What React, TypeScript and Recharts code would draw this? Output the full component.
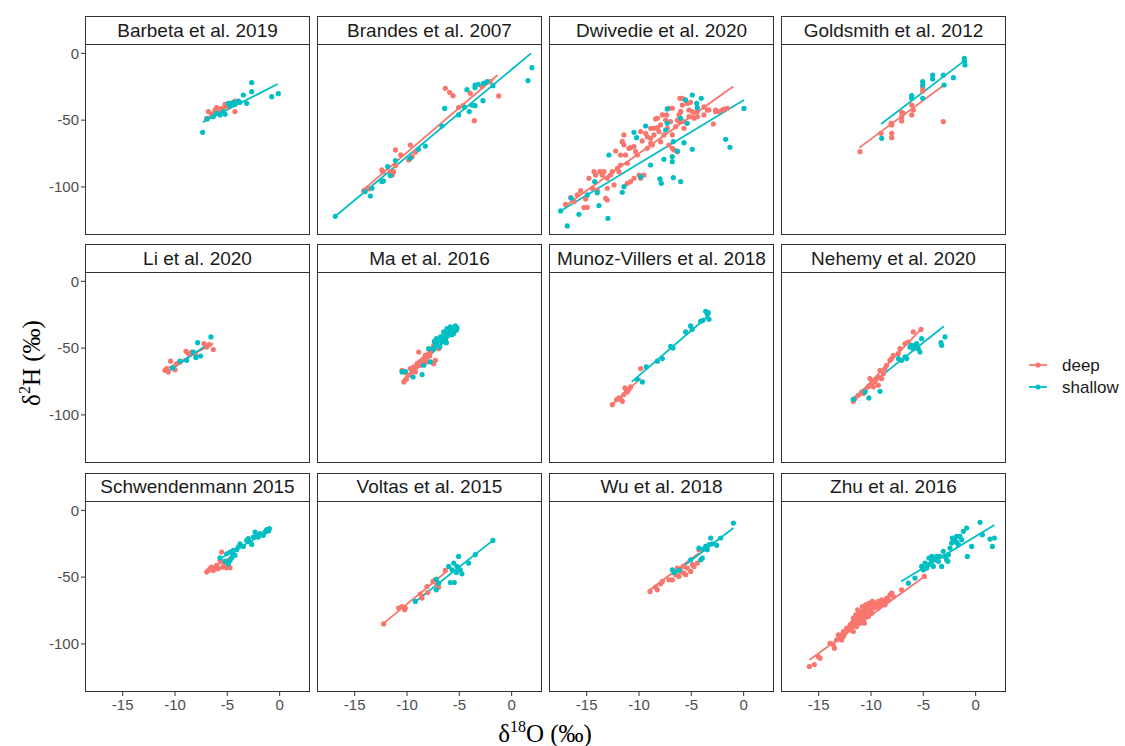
import React from 'react';
import { ScatterChart, Scatter, XAxis, YAxis, ReferenceLine } from 'recharts';

type P = [number, number];
type Fit = [number, number, number, number];

// ---------- data (δ18O, δ2H) ----------
const barbetaDeep: P[] = [[-6.97,-48.6],[-6.81,-43.6],[-6.34,-44.9],[-6.02,-40.6],[-5.54,-41.1],[-5.22,-38.2],[-5.06,-39.9],[-4.27,-43.6],[-4.74,-37.4],[-5.7,-42.4],[-6.49,-46.1],[-6.18,-42.4],[-4.27,-35.7]];
const barbetaShallow: P[] = [[-7.36,-59.1],[-2.67,-21.9],[-2.67,-28.7],[-0.76,-32.4],[-0.13,-30.2],[-3.47,-31.2],[-3.79,-36.7],[-4.43,-36.7],[-4.74,-39.2],[-5.38,-43.6],[-5.7,-46.1],[-6.34,-47.4],[-5.22,-45.6],[-6.02,-44.9],[-4.9,-37.4],[-4.27,-38.2],[-3.95,-35.7],[-3.15,-37.4],[-6.91,-49.1]];
const barbetaDeepFit: Fit = [-7.23,-49.9,-4.27,-36.7];
const barbetaShallowFit: Fit = [-7.36,-51.6,-0.19,-23.0];

const brandesDeep: P[] = [[-14.14,-103],[-13.66,-101.5],[-12.4,-87.3],[-12.3,-88.6],[-11.28,-88.6],[-11.1,-84],[-11.1,-72.3],[-10.6,-76],[-9.68,-68.6],[-9.84,-79.8],[-9.5,-77.3],[-9.2,-74],[-6.34,-26.2],[-5.93,-29.2],[-5.6,-31.7],[-5.07,-40.6],[-4.65,-39.2],[-3.95,-29.9],[-3.57,-50.4],[-2.84,-24.9],[-2.04,-21.2],[-1.24,-31.9],[-11.4,-91],[-11.6,-88.6]];
const brandesShallow: P[] = [[-16.85,-122],[1.94,-10.7],[1.56,-20.4],[-13.5,-106.8],[-13.35,-101],[-14.0,-103.5],[-12.4,-96],[-12.25,-95.5],[-11.6,-91.5],[-11.85,-84.8],[-11.1,-80.3],[-9.68,-78.6],[-8.9,-71.8],[-8.25,-69.4],[-6.66,-54.4],[-6.4,-41.2],[-5.07,-46.1],[-4.5,-40.4],[-4.05,-43.6],[-4.27,-27.2],[-3.8,-38.7],[-3.5,-39.2],[-3.5,-23.7],[-3.2,-23.2],[-3.5,-25.7],[-2.68,-22.4],[-2.36,-21.2],[-1.79,-24.2],[-2.74,-35.4]];
const brandesDeepFit: Fit = [-14.3,-103,-1.34,-16.2];
const brandesShallowFit: Fit = [-16.85,-122,1.85,0];

const dwivedieDeep: P[] = [[-17.01,-113],[-16.53,-108],[-16.21,-111],[-15.9,-106],[-15.58,-102.8],[-15.1,-109],[-14.94,-115.3],[-15.26,-115.5],[-14.46,-101],[-14.14,-91.1],[-13.73,-88.6],[-13.35,-88.6],[-13.51,-91.1],[-13.19,-108.5],[-13.03,-109.8],[-13.03,-93.5],[-12.71,-91.1],[-12.55,-88.6],[-12.39,-98.5],[-12.23,-73.1],[-12.07,-86.1],[-11.92,-88.6],[-11.76,-83.6],[-11.6,-66.1],[-11.44,-68.6],[-11.28,-76.1],[-11.12,-82.3],[-10.96,-71.1],[-10.8,-70.6],[-10.48,-69.8],[-10.32,-73.6],[-10.16,-76.1],[-9.84,-93.5],[-9.69,-65.6],[-9.53,-91.1],[-9.37,-59.9],[-9.21,-71.1],[-8.89,-63.6],[-8.73,-68.6],[-8.57,-61.1],[-8.41,-49.1],[-8.25,-55.6],[-8.09,-58.6],[-7.93,-66.1],[-7.62,-61.1],[-7.46,-49.9],[-7.36,-46.1],[-7.14,-41.1],[-6.98,-51.1],[-6.82,-61.1],[-6.66,-72.3],[-6.5,-54.9],[-6.34,-73.6],[-6.18,-46.1],[-6.09,-33.7],[-6.02,-43.6],[-5.86,-38.7],[-5.77,-51.1],[-5.7,-56.1],[-5.39,-37.4],[-5.23,-42.4],[-5.07,-36.7],[-4.91,-43.6],[-4.75,-48.6],[-4.43,-43.6],[-3.79,-46.1],[-3.47,-42.4],[-3.31,-42.4],[-2.9,-52.9],[-2.68,-43.6],[-2.36,-43.6],[-2.04,-42.4],[-1.56,-41.1],[-14.78,-93.5],[-14.3,-88.6],[-13.99,-102.3],[-11.12,-97.3],[-10.8,-96],[-10.48,-93.5],[-10.0,-91.1],[-13.03,-101],[-11.76,-76.1],[-11.44,-61.1],[-9.84,-58.6],[-8.89,-56.1],[-7.77,-46.1],[-7.14,-68.6],[-6.82,-71.1],[-6.18,-51.1],[-7.93,-53.6],[-8.57,-56.1],[-5.85,-33.7],[-5.37,-37.4],[-6.01,-43.7],[-6.81,-41.1],[-6.33,-49.9],[-5.22,-47.4],[-8.24,-48.6],[-8.24,-56.1],[-9.2,-62.4],[-3.79,-40],[-2.67,-42.4],[-1.88,-41.7],[-4.42,-47.4],[-7.29,-56.1],[-8.88,-67.3],[-11.59,-66.1]];
const dwivedieShallow: P[] = [[-17.49,-118],[-16.85,-129.2],[-16.47,-108.5],[-15.74,-120.5],[-14.94,-106],[-14.24,-96],[-13.83,-114],[-13.99,-104.3],[-12.97,-123.5],[-12.87,-76.1],[-11.6,-104],[-11.44,-99.8],[-10.48,-59.1],[-10.23,-63.1],[-9.84,-92.3],[-9.37,-54.4],[-8.89,-83.6],[-8.0,-94],[-7.87,-97.3],[-7.62,-79.3],[-7.46,-57.4],[-7.3,-41.6],[-7.3,-52.4],[-6.82,-77.3],[-6.82,-81.1],[-6.72,-93],[-6.72,-66.1],[-6.34,-73.1],[-6.02,-96],[-5.7,-66.9],[-5.39,-52.4],[-4.91,-31.2],[-4.91,-71.8],[-4.49,-37.4],[-4.43,-40.7],[-4.05,-33.7],[-1.72,-64.4],[-1.31,-70.3],[0.03,-41.2],[-5.55,-34.9],[-6.02,-48.6]];
const dwivedieDeepFit: Fit = [-17.17,-114.8,-1.0,-24.9];
const dwivedieShallowFit: Fit = [-17.5,-118,0.03,-34.9];

const goldsmithDeep: P[] = [[-11.05,-73.6],[-9.04,-59.9],[-8.09,-52.4],[-8.02,-59.9],[-8.02,-63.1],[-7.07,-44.1],[-7.07,-47.4],[-7.07,-50.6],[-6.11,-38.7],[-6.11,-46.1],[-5.95,-42.4],[-5.06,-25.7],[-5.06,-28.2],[-3.09,-51.1],[-6.91,-44.9],[-8.02,-53.6]];
const goldsmithShallow: P[] = [[-8.98,-63.6],[-6.11,-31.7],[-6.11,-33.7],[-5.06,-21.2],[-5.06,-23.7],[-5.06,-33.7],[-4.11,-16.2],[-4.11,-19.2],[-3.09,-16.2],[-3.02,-23.7],[-2.13,-18.2],[-1.08,-3.7],[-1.02,-8.7],[-1.08,-5.7]];
const goldsmithDeepFit: Fit = [-11.11,-70.6,-3.02,-23.7];
const goldsmithShallowFit: Fit = [-9.04,-52.9,-1.18,-6.2];

const liDeep: P[] = [[-10.96,-66.6],[-10.64,-67.8],[-10.8,-65.3],[-10.42,-59.8],[-10.0,-66.1],[-9.84,-61.6],[-8.95,-52.4],[-8.41,-52.9],[-8.0,-55.4],[-7.23,-46.6],[-6.98,-49.1],[-6.34,-51.1],[-6.72,-47.4],[-9.52,-60.3],[-8.73,-54.1]];
const liShallow: P[] = [[-6.56,-41.6],[-7.84,-45.9],[-7.55,-55.9],[-8.0,-57.1],[-8.89,-59.1],[-9.52,-59.8],[-10.23,-64.8],[-8.25,-52.9]];
const liDeepFit: Fit = [-10.96,-66.2,-6.34,-46.5];
const liShallowFit: Fit = [-10.48,-66.6,-6.66,-45.9];

const maDeep: P[] = [[-10.3,-75.3],[-10.06,-73.3],[-10.47,-66.6],[-9.68,-65.3],[-9.84,-70.3],[-9.36,-64.1],[-9.2,-67.8],[-9.04,-61.6],[-8.88,-52.9],[-8.72,-62.8],[-8.56,-59.1],[-8.41,-57.9],[-8.25,-55.4],[-8.09,-60.3],[-7.93,-54.1],[-7.77,-52.9],[-7.61,-50.4],[-7.45,-61.6],[-7.29,-59.1],[-7.45,-47.9],[-7.13,-45.4],[-6.97,-50.4],[-9.52,-67.8],[-9.1,-64.1],[-8.79,-60.3],[-8.47,-61.6],[-10.16,-68.3],[-8.15,-57.4],[-7.83,-55.9]];
const maShallow: P[] = [[-10.47,-67.8],[-10.16,-67.3],[-9.42,-71.6],[-8.56,-69.8],[-7.77,-60.3],[-8.4,-62.8],[-7.93,-50.4],[-7.39,-44.9],[-7.29,-47.9],[-6.97,-44.1],[-6.81,-41.6],[-6.65,-45.4],[-6.49,-40.4],[-6.33,-42.9],[-6.17,-39.1],[-6.17,-35.4],[-6.02,-40.4],[-5.86,-37.9],[-5.86,-34.1],[-5.7,-36.6],[-5.54,-39.1],[-5.54,-35.4],[-5.38,-33.4],[-5.28,-36.6],[-5.22,-34.9],[-6.49,-37.9],[-7.13,-45.9],[-6.87,-49.1],[-6.56,-43.4],[-6.02,-36.6],[-5.7,-39.9],[-7.45,-50.4],[-7.2,-42.9],[-6.24,-45.9]];
const maDeepFit: Fit = [-10.4,-74,-6.97,-47];
const maShallowFit: Fit = [-10.38,-75.3,-5.22,-35.6];

const munozDeep: P[] = [[-12.55,-92.3],[-12.14,-88.5],[-11.75,-88.3],[-11.59,-89.8],[-11.44,-84.8],[-11.34,-79.8],[-11.12,-82.8],[-10.96,-80.8],[-10.8,-79],[-11.91,-87.3],[-9.84,-65.3],[-11.21,-81.6]];
const munozShallow: P[] = [[-10.16,-73.3],[-9.68,-75.3],[-9.3,-64.1],[-8.25,-59.8],[-7.77,-57.8],[-6.98,-48.6],[-6.75,-49.9],[-5.54,-37.9],[-5.07,-33.4],[-4.91,-35.9],[-4.11,-29.9],[-3.63,-22.4],[-3.47,-24.9],[-3.31,-28.4],[-3.38,-23.4],[-3.89,-29.2]];
const munozDeepFit: Fit = [-12.6,-92.5,-9.84,-72.5];
const munozShallowFit: Fit = [-10.7,-75.3,-3.31,-25.4];

const nehemyDeep: P[] = [[-11.69,-89.8],[-11.53,-87.8],[-11.21,-85.3],[-10.89,-82.8],[-10.57,-81.6],[-10.26,-79],[-10.1,-72.8],[-9.94,-76.5],[-9.62,-75.3],[-9.3,-71.6],[-9.14,-66.6],[-8.98,-72.8],[-8.82,-69.1],[-8.66,-65.3],[-8.5,-62.8],[-8.19,-59.1],[-7.87,-55.4],[-7.39,-54.1],[-7.23,-50.4],[-6.75,-46.6],[-6.43,-45.4],[-5.96,-37.9],[-5.22,-35.9],[-9.78,-79],[-9.46,-72.8],[-10.73,-84],[-8.03,-57.8],[-9.3,-77.8]];
const nehemyShallow: P[] = [[-11.69,-88.3],[-10.2,-87.3],[-9.14,-82.3],[-10.57,-82.8],[-7.07,-59.1],[-6.75,-56.6],[-6.59,-57.8],[-6.27,-49.1],[-5.96,-50.4],[-5.8,-47.9],[-5.64,-46.6],[-5.48,-50.4],[-5.32,-52.9],[-5.16,-42.9],[-6.12,-47.9],[-3.25,-47.9],[-3.31,-45.9],[-2.93,-41.6],[-7.39,-57.8]];
const nehemyDeepFit: Fit = [-11.69,-89,-5.16,-35.4];
const nehemyShallowFit: Fit = [-11.78,-87.8,-3.03,-33.6];

const schwDeep: P[] = [[-6.97,-46.2],[-6.81,-45],[-6.49,-42.5],[-6.34,-45],[-6.02,-41.2],[-5.86,-43.7],[-5.54,-31.2],[-5.44,-42.5],[-5.22,-41.2],[-5.06,-43],[-4.74,-43],[-5.7,-37.5],[-6.18,-43.7],[-6.65,-43.7],[-5.38,-38.7],[-4.9,-37.5]];
const schwShallow: P[] = [[-5.7,-35.5],[-5.22,-38],[-5.06,-32.5],[-4.74,-31.2],[-4.74,-37.5],[-4.43,-30],[-4.27,-33.7],[-4.11,-29.5],[-3.95,-27.5],[-3.79,-25],[-3.47,-27],[-3.15,-22.5],[-3.0,-21.2],[-2.83,-23.7],[-2.67,-25.5],[-2.35,-16.2],[-2.2,-18.7],[-2.04,-20],[-1.88,-17.5],[-1.56,-18.7],[-1.4,-16.2],[-1.24,-14.5],[-1.08,-15.5],[-0.98,-13.7],[-4.58,-35.5],[-4.9,-40],[-4.49,-32.5],[-2.51,-20]];
const schwDeepFit: Fit = [-6.97,-45,-4.74,-35.5];
const schwShallowFit: Fit = [-5.7,-36.2,-0.92,-15];

const voltasDeep: P[] = [[-12.23,-85],[-10.8,-73.2],[-10.48,-72],[-10.16,-73.2],[-10.23,-74.5],[-8.57,-65.7],[-8.73,-62.7],[-8.09,-57],[-8.03,-61.5],[-7.52,-53.2],[-7.14,-55.7],[-6.98,-57.5],[-6.34,-45],[-7.3,-52]];
const voltasShallow: P[] = [[-9.21,-68.2],[-7.2,-51.5],[-7.2,-59.5],[-6.98,-54.5],[-6.02,-42],[-5.86,-54],[-5.48,-54],[-5.7,-44.5],[-5.54,-39.5],[-5.22,-42],[-5.07,-34.5],[-4.91,-44.5],[-4.75,-47.5],[-4.11,-39.5],[-3.47,-33.2],[-1.79,-22.5],[-5.29,-46.5]];
const voltasDeepFit: Fit = [-12.3,-85,-6.34,-46.5];
const voltasShallowFit: Fit = [-9.3,-69,-1.79,-22.5];

const wuDeep: P[] = [[-8.95,-60.7],[-8.41,-57.5],[-8.25,-59.5],[-7.77,-53.2],[-7.13,-52],[-6.81,-52],[-6.34,-43.2],[-6.18,-49.5],[-6.02,-45.7],[-5.76,-42],[-5.54,-48.2],[-5.38,-43.2],[-5.06,-45.7],[-4.9,-40.7],[-4.75,-42],[-4.43,-39.5],[-4.27,-29.5],[-6.49,-48.2],[-5.7,-47],[-7.93,-55]];
const wuShallow: P[] = [[-6.81,-44.5],[-6.65,-46.5],[-6.18,-45],[-5.06,-37],[-4.27,-28.2],[-4.11,-37],[-3.95,-35.7],[-3.63,-27],[-3.47,-29.5],[-3.31,-25.7],[-3.15,-20.7],[-3.0,-25],[-2.58,-26.2],[-2.2,-20.7],[-0.98,-9.5],[-3.85,-29]];
const wuDeepFit: Fit = [-8.95,-59.5,-4.27,-32];
const wuShallowFit: Fit = [-6.81,-48.2,-0.98,-13.2];

const zhuDeep: P[] = [[-15.89,-117],[-15.41,-115.5],[-15.03,-109.5],[-13.92,-99.5],[-13.5,-103.2],[-13.28,-97],[-12.96,-94.5],[-12.8,-93.2],[-12.64,-90.7],[-12.48,-92],[-12.32,-88.2],[-12.16,-89.5],[-12.0,-85.7],[-11.84,-87],[-11.78,-84],[-11.59,-82],[-11.53,-85],[-11.46,-78.2],[-11.37,-80.7],[-11.21,-83.2],[-11.14,-77],[-11.05,-79.5],[-10.95,-82],[-10.89,-75.7],[-10.73,-78.2],[-10.63,-80.7],[-10.57,-74.5],[-10.41,-77],[-10.32,-72],[-10.25,-79.5],[-10.09,-74.5],[-10.0,-70.7],[-9.93,-77],[-9.77,-73.2],[-9.62,-69.5],[-9.46,-72],[-9.3,-68.2],[-9.14,-70.7],[-8.98,-67],[-8.82,-69.5],[-8.66,-68.2],[-8.5,-65.7],[-8.34,-67],[-8.18,-63.2],[-8.02,-62],[-7.07,-59.5],[-4.9,-49.5],[-11.69,-80.7],[-11.27,-74.5],[-10.82,-72],[-10.51,-70.7],[-10.19,-69.5],[-9.87,-68.2],[-12.0,-89.5],[-11.69,-90.7],[-12.64,-94.5],[-11.37,-87],[-11.05,-84.5],[-10.63,-84.5],[-12.8,-97],[-13.12,-93.2],[-9.3,-73.2],[-8.66,-70.7],[-7.86,-64.5],[-10.73,-82],[-10.32,-78.2],[-14.87,-110.7],[-13.6,-100.7]];
const zhuShallow: P[] = [[-6.43,-54.5],[-5.8,-50.7],[-5.16,-42],[-5.0,-44.5],[-4.84,-39.5],[-4.68,-43.2],[-4.52,-40.7],[-4.46,-35.7],[-4.2,-38.2],[-4.04,-42],[-3.88,-37],[-3.72,-34.5],[-3.56,-38.2],[-3.4,-34.5],[-3.09,-30.7],[-2.93,-34.5],[-2.77,-37],[-2.61,-33.2],[-2.45,-28.2],[-2.29,-24.5],[-2.13,-23.2],[-1.97,-20.7],[-1.81,-24],[-1.65,-25.7],[-1.49,-19.5],[-1.33,-22],[-1.17,-15.7],[-0.86,-13.2],[-0.79,-34.5],[-0.38,-27],[0.42,-9],[0.64,-18.2],[1.37,-21.5],[1.6,-27],[1.79,-20.7],[-1.81,-19.5],[-3.25,-42],[-2.66,-38.2],[-2.23,-20.7],[-4.2,-34.5]];
const zhuDeepFit: Fit = [-15.89,-112,-4.9,-49.5];
const zhuShallowFit: Fit = [-7.13,-53.2,1.79,-11];

const studyTitles = ['Barbeta et al. 2019','Brandes et al. 2007','Dwivedie et al. 2020','Goldsmith et al. 2012','Li et al. 2020','Ma et al. 2016','Munoz-Villers et al. 2018','Nehemy et al. 2020','Schwendenmann 2015','Voltas et al. 2015','Wu et al. 2018','Zhu et al. 2016'];
const deepSets: P[][] = [barbetaDeep, brandesDeep, dwivedieDeep, goldsmithDeep, liDeep, maDeep, munozDeep, nehemyDeep, schwDeep, voltasDeep, wuDeep, zhuDeep];
const shallowSets: P[][] = [barbetaShallow, brandesShallow, dwivedieShallow, goldsmithShallow, liShallow, maShallow, munozShallow, nehemyShallow, schwShallow, voltasShallow, wuShallow, zhuShallow];
const deepFits: Fit[] = [barbetaDeepFit, brandesDeepFit, dwivedieDeepFit, goldsmithDeepFit, liDeepFit, maDeepFit, munozDeepFit, nehemyDeepFit, schwDeepFit, voltasDeepFit, wuDeepFit, zhuDeepFit];
const shallowFits: Fit[] = [barbetaShallowFit, brandesShallowFit, dwivedieShallowFit, goldsmithShallowFit, liShallowFit, maShallowFit, munozShallowFit, nehemyShallowFit, schwShallowFit, voltasShallowFit, wuShallowFit, zhuShallowFit];

const groupLabels = ['deep', 'shallow'];
const xTicks = [-15, -10, -5, 0];
const yTicks = [-100, -50, 0];
const xDomain: [number, number] = [-18.6, 2.9];
const yDomain: [number, number] = [-136, 7];

// ---------- style ----------
const RED = '#F8766D';
const TEAL = '#00BFC4';
const BORDER = '#333333';
const SANS = '"Liberation Sans", Arial, sans-serif';
const SERIF = '"Liberation Serif", "Times New Roman", serif';
const COLS = [85, 317, 549, 781];
const ROWS = [44, 272.4, 500.8];
const PW = 225;
const PH = 191;
const Y_W = 85;
const X_H = 32;

const toPts = (a: P[]) => a.map(([x, y]) => ({ x, y }));
const dot = (color: string) => (props: any) => (
  <circle cx={props.cx} cy={props.cy} r={2.6} fill={color} />
);

function Panel({ i }: { i: number }) {
  const col = i % 4;
  const row = Math.floor(i / 4);
  const showY = col === 0;
  const showX = row === 2;
  const w = PW + (showY ? Y_W : 0);
  const h = PH + (showX ? X_H : 0);
  const df = deepFits[i];
  const sf = shallowFits[i];
  const tickStyle = { fill: '#4D4D4D', fontSize: 15, fontFamily: SANS };
  return (
    <>
      <div
        style={{
          position: 'absolute', left: COLS[col], top: ROWS[row] - 28, width: PW, height: 29,
          border: `1px solid ${BORDER}`, boxSizing: 'border-box', background: '#fff',
          fontFamily: SANS, fontSize: 19, color: '#1A1A1A',
          display: 'flex', alignItems: 'center', justifyContent: 'center', whiteSpace: 'nowrap',
        }}
      >
        {studyTitles[i]}
      </div>
      <div style={{ position: 'absolute', left: COLS[col] - (showY ? Y_W : 0), top: ROWS[row] }}>
        <ScatterChart width={w} height={h} margin={{ top: 0, right: 0, bottom: 0, left: 0 }}>
          <XAxis
            type="number" dataKey="x" domain={xDomain} ticks={xTicks} allowDataOverflow
            hide={!showX} height={X_H} axisLine={false} tickSize={4} tickMargin={3}
            tickLine={{ stroke: BORDER }} tick={tickStyle} interval={0}
          />
          <YAxis
            type="number" dataKey="y" domain={yDomain} ticks={yTicks} allowDataOverflow
            hide={!showY} width={Y_W} axisLine={false} tickSize={4} tickMargin={2}
            tickLine={{ stroke: BORDER }} tick={tickStyle} interval={0}
          />
          <Scatter data={toPts(deepSets[i])} fill={RED} shape={dot(RED)} isAnimationActive={false} />
          <Scatter data={toPts(shallowSets[i])} fill={TEAL} shape={dot(TEAL)} isAnimationActive={false} />
          <ReferenceLine segment={[{ x: df[0], y: df[1] }, { x: df[2], y: df[3] }]} stroke={RED} strokeWidth={1.8} />
          <ReferenceLine segment={[{ x: sf[0], y: sf[1] }, { x: sf[2], y: sf[3] }]} stroke={TEAL} strokeWidth={1.8} />
        </ScatterChart>
      </div>
      <div
        style={{
          position: 'absolute', left: COLS[col], top: ROWS[row], width: PW, height: PH,
          border: `1px solid ${BORDER}`, boxSizing: 'border-box', pointerEvents: 'none',
        }}
      />
    </>
  );
}

export default function App() {
  return (
    <div style={{ position: 'absolute', left: 0, top: 0, width: 1125, height: 746, background: '#fff', overflow: 'hidden' }}>
      {studyTitles.map((_, i) => (
        <Panel key={i} i={i} />
      ))}
      <svg style={{ position: 'absolute', left: 0, top: 0 }} width={1125} height={746}>
        <text x={545} y={742} textAnchor="middle" fontFamily={SERIF} fontSize={25} fill="#000">
          <tspan>δ</tspan>
          <tspan dy={-10} fontSize={16}>18</tspan>
          <tspan dy={10}>O (‰)</tspan>
        </text>
        <text transform="translate(40,363) rotate(-90)" textAnchor="middle" fontFamily={SERIF} fontSize={25} fill="#000">
          <tspan>δ</tspan>
          <tspan dy={-10} fontSize={16}>2</tspan>
          <tspan dy={10}>H (‰)</tspan>
        </text>
        {groupLabels.map((g, k) => {
          const cy = 365 + k * 22;
          const c = k === 0 ? RED : TEAL;
          return (
            <g key={g}>
              <line x1={1029} x2={1047} y1={cy} y2={cy} stroke={c} strokeWidth={1.8} />
              <circle cx={1038} cy={cy} r={2.6} fill={c} />
              <text x={1062} y={cy} dominantBaseline="central" fontFamily={SANS} fontSize={17} fill="#1A1A1A">{g}</text>
            </g>
          );
        })}
      </svg>
    </div>
  );
}
